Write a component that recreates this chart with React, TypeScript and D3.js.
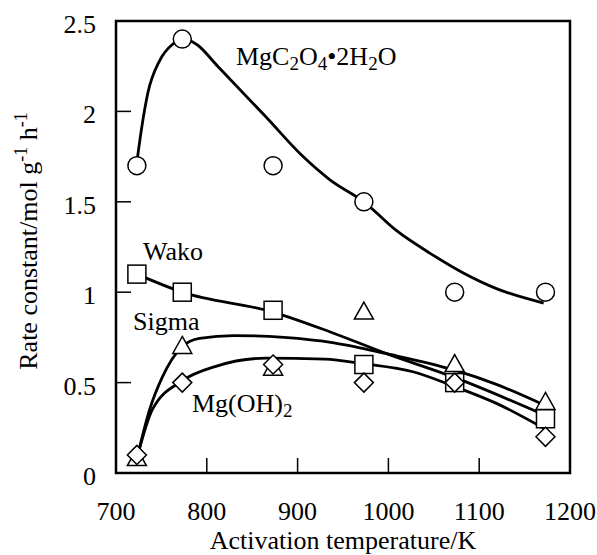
import React from 'react';
import * as d3 from 'd3';

// overall size and plot box
const svgWidth = 597;
const svgHeight = 555;
const plotLeft = 116;
const plotRight = 570;
const plotTop = 21;
const plotBottom = 473;
const fontFamily = "'Liberation Serif', 'DejaVu Serif', 'Times New Roman', Times, serif";
const fontSize = 26;
const tickLength = 15;

// measured points
const temps = [723, 773, 873, 973, 1073, 1173];
const oxalate = [1.7, 2.4, 1.7, 1.5, 1.0, 1.0];
const wako = [1.1, 1.0, 0.9, 0.6, 0.5, 0.3];
const sigma = [0.08, 0.7, 0.58, 0.89, 0.6, 0.39];
const hydroxide = [0.1, 0.5, 0.6, 0.5, 0.5, 0.2];

// hand drawn fit curves
const oxalateFitT = [723, 728, 735, 748, 762, 776, 789, 812, 865, 906, 936, 973, 1009, 1046, 1083, 1119, 1171];
const oxalateFitK = [1.72, 1.9, 2.1, 2.28, 2.37, 2.4, 2.37, 2.25, 1.97, 1.75, 1.62, 1.5, 1.34, 1.215, 1.105, 1.02, 0.94];
const wakoFitT = [723, 773, 873, 936, 998, 1072, 1172];
const wakoFitK = [1.1, 1.0, 0.89, 0.78, 0.66, 0.53, 0.32];
const sigmaFitT = [724, 737, 751, 773, 792, 830, 885, 940, 998, 1072, 1119, 1172];
const sigmaFitK = [0.1, 0.35, 0.53, 0.7, 0.745, 0.76, 0.75, 0.72, 0.66, 0.57, 0.49, 0.375];
const hydroxideFitT = [724, 740, 773, 810, 865, 930, 972, 1027, 1072, 1119, 1172];
const hydroxideFitK = [0.1, 0.35, 0.51, 0.59, 0.635, 0.63, 0.605, 0.56, 0.48, 0.385, 0.245];

// axes
const xTicks = [700, 800, 900, 1000, 1100, 1200];
const yTicks = [0, 0.5, 1, 1.5, 2, 2.5];

const xScale = d3.scaleLinear().domain([700, 1200]).range([plotLeft, plotRight]);
const yScale = d3.scaleLinear().domain([0, 2.5]).range([plotBottom, plotTop]);

const fitLine = d3.line<[number, number]>()
  .x(d => xScale(d[0]))
  .y(d => yScale(d[1]))
  .curve(d3.curveMonotoneX);

const zipFit = (ts: number[], ks: number[]) => ts.map((t, i) => [t, ks[i]] as [number, number]);

const markerStyle = { fill: '#fff', stroke: '#000', strokeWidth: 1.5 };

const circleMark = (x: number, y: number, key: number) => (
  <circle key={key} cx={x} cy={y} r={9} {...markerStyle} />
);
const squareMark = (x: number, y: number, key: number) => (
  <rect key={key} x={x - 9} y={y - 9} width={18} height={18} {...markerStyle} />
);
const triangleMark = (x: number, y: number, key: number) => (
  <path key={key} d={`M${x},${y - 10}L${x + 9.5},${y + 7}L${x - 9.5},${y + 7}Z`} {...markerStyle} />
);
const diamondMark = (x: number, y: number, key: number) => (
  <path key={key} d={`M${x},${y - 9.5}L${x + 9.5},${y}L${x},${y + 9.5}L${x - 9.5},${y}Z`} {...markerStyle} />
);

export default function App() {
  const fits = [
    zipFit(oxalateFitT, oxalateFitK),
    zipFit(wakoFitT, wakoFitK),
    zipFit(sigmaFitT, sigmaFitK),
    zipFit(hydroxideFitT, hydroxideFitK),
  ];
  const txt = { fontFamily, fontSize, fill: '#000' };

  return (
    <svg width={svgWidth} height={svgHeight}
      style={{ position: 'absolute', left: 0, top: 0, background: '#fff', fontFamily }}>

      {/* fit curves */}
      {fits.map((pts, i) => (
        <path key={i} d={fitLine(pts) || ''} fill="none" stroke="#000" strokeWidth={2.8} />
      ))}

      {/* markers, drawn in the stacking order of the original */}
      {temps.map((t, i) => circleMark(xScale(t), yScale(oxalate[i]), i))}
      {temps.map((t, i) => triangleMark(xScale(t), yScale(sigma[i]), i))}
      {temps.map((t, i) => squareMark(xScale(t), yScale(wako[i]), i))}
      {temps.map((t, i) => diamondMark(xScale(t), yScale(hydroxide[i]), i))}

      {/* frame */}
      <rect x={plotLeft} y={plotTop} width={plotRight - plotLeft} height={plotBottom - plotTop}
        fill="none" stroke="#000" strokeWidth={2.5} />

      {/* x axis */}
      {xTicks.map(t => (
        <g key={t}>
          {t > 700 && t < 1200 && (
            <line x1={xScale(t)} x2={xScale(t)} y1={plotBottom} y2={plotBottom - tickLength}
              stroke="#000" strokeWidth={1.5} />
          )}
          <text style={txt} x={xScale(t)} y={520} textAnchor="middle">{t}</text>
        </g>
      ))}
      <text style={txt} x={(plotLeft + plotRight) / 2} y={549} textAnchor="middle">Activation temperature/K</text>

      {/* y axis */}
      {yTicks.map(v => (
        <g key={v}>
          {v > 0 && v < 2.5 && (
            <line x1={plotLeft} x2={plotLeft + tickLength} y1={yScale(v)} y2={yScale(v)}
              stroke="#000" strokeWidth={1.5} />
          )}
          <text style={txt} x={96} y={yScale(v) + 12} textAnchor="end">{String(v)}</text>
        </g>
      ))}
      <text style={txt} transform="translate(37,241) rotate(-90)" textAnchor="middle">
        Rate constant/mol g<tspan dy={-10} style={{ fontSize: 18 }}>-1</tspan>
        <tspan dy={10}>{'\u00a0h'}</tspan>
        <tspan dy={-10} style={{ fontSize: 18 }}>-1</tspan>
      </text>

      {/* series labels */}
      <text style={txt} x={236} y={65}>
        MgC<tspan dy={5} style={{ fontSize: 19 }}>2</tspan>
        <tspan dy={-5}>O</tspan><tspan dy={5} style={{ fontSize: 19 }}>4</tspan>
        <tspan dy={-5}>•2H</tspan><tspan dy={5} style={{ fontSize: 19 }}>2</tspan>
        <tspan dy={-5}>O</tspan>
      </text>
      <text style={txt} x={143} y={260}>Wako</text>
      <text style={txt} x={133} y={330}>Sigma</text>
      <text style={txt} x={192} y={412}>
        Mg(OH)<tspan dy={5} style={{ fontSize: 19 }}>2</tspan>
      </text>
    </svg>
  );
}
